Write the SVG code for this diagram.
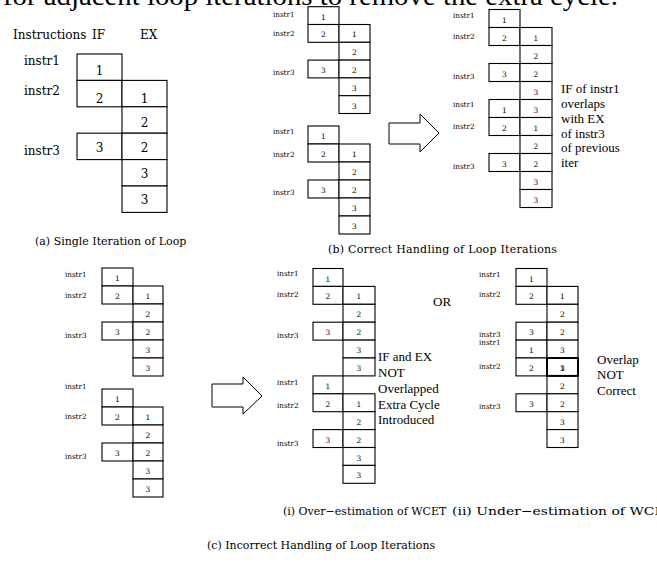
<svg xmlns="http://www.w3.org/2000/svg" width="657" height="563" viewBox="0 0 657 563">
<style>
.bx{fill:#fff;stroke:#000;stroke-width:1.1}
.bx2{fill:none;stroke:#000;stroke-width:2}
text{font-family:"DejaVu Serif","Liberation Serif",serif;fill:#000}
.L{font-size:12px}
.d{font-size:12px;text-anchor:middle}
.s{font-size:7.2px}
.sd{font-size:7.5px;text-anchor:middle}
.note{font-family:"Liberation Serif",serif;font-size:13px}
.cap{font-size:11px}
.top{font-family:"Liberation Serif",serif;font-size:27px}
.arrow{fill:#fff;stroke:#000;stroke-width:1}
</style>
<rect width="657" height="563" fill="#fff"/>
<text class="top" x="3" y="5" textLength="615" lengthAdjust="spacingAndGlyphs">for adjacent loop iterations to remove the extra cycle.</text>

<g id="panel-a">
<text class="L" x="13" y="39">Instructions</text>
<text class="L" x="92" y="39">IF</text>
<text class="L" x="140" y="39">EX</text>
<text class="L" x="24" y="65">instr1</text>
<text class="L" x="24" y="95">instr2</text>
<text class="L" x="24" y="155">instr3</text>
<rect class="bx" x="77" y="54" width="45" height="26.4"/>
<rect class="bx" x="77" y="80.4" width="45" height="26.4"/>
<rect class="bx" x="77" y="133.2" width="45" height="26.4"/>
<rect class="bx" x="122" y="80.4" width="45" height="26.4"/>
<rect class="bx" x="122" y="106.8" width="45" height="26.4"/>
<rect class="bx" x="122" y="133.2" width="45" height="26.4"/>
<rect class="bx" x="122" y="159.6" width="45" height="26.4"/>
<rect class="bx" x="122" y="186" width="45" height="26.4"/>
<text class="d" x="99.5" y="75">1</text>
<text class="d" x="99.5" y="103">2</text>
<text class="d" x="99.5" y="152">3</text>
<text class="d" x="144.5" y="103">1</text>
<text class="d" x="144.5" y="127">2</text>
<text class="d" x="144.5" y="152">2</text>
<text class="d" x="144.5" y="178">3</text>
<text class="d" x="144.5" y="204">3</text>
<text class="cap" x="35" y="245">(a) Single Iteration of Loop</text>
</g>

<g id="panel-b-iter1">
<text class="s" x="273" y="17">instr1</text>
<text class="s" x="273" y="36">instr2</text>
<text class="s" x="273" y="75">instr3</text>
<rect class="bx" x="308" y="6.7" width="31" height="17.8"/>
<rect class="bx" x="308" y="24.5" width="31" height="17.8"/>
<rect class="bx" x="308" y="60.1" width="31" height="17.8"/>
<rect class="bx" x="339" y="24.5" width="31" height="17.8"/>
<rect class="bx" x="339" y="42.3" width="31" height="17.8"/>
<rect class="bx" x="339" y="60.1" width="31" height="17.8"/>
<rect class="bx" x="339" y="77.9" width="31" height="17.8"/>
<rect class="bx" x="339" y="95.7" width="31" height="17.8"/>
<text class="sd" x="323.5" y="19.6">1</text>
<text class="sd" x="323.5" y="37.4">2</text>
<text class="sd" x="323.5" y="73">3</text>
<text class="sd" x="354.5" y="37.4">1</text>
<text class="sd" x="354.5" y="55.2">2</text>
<text class="sd" x="354.5" y="73">2</text>
<text class="sd" x="354.5" y="90.8">3</text>
<text class="sd" x="354.5" y="108.6">3</text>
</g>

<g id="panel-b-iter2">
<text class="s" x="273" y="134">instr1</text>
<text class="s" x="273" y="157">instr2</text>
<text class="s" x="273" y="195">instr3</text>
<rect class="bx" x="308" y="126" width="31" height="18"/>
<rect class="bx" x="308" y="144" width="31" height="18"/>
<rect class="bx" x="308" y="180" width="31" height="18"/>
<rect class="bx" x="339" y="144" width="31" height="18"/>
<rect class="bx" x="339" y="162" width="31" height="18"/>
<rect class="bx" x="339" y="180" width="31" height="18"/>
<rect class="bx" x="339" y="198" width="31" height="18"/>
<rect class="bx" x="339" y="216" width="31" height="18"/>
<text class="sd" x="323.5" y="139">1</text>
<text class="sd" x="323.5" y="157">2</text>
<text class="sd" x="323.5" y="193">3</text>
<text class="sd" x="354.5" y="157">1</text>
<text class="sd" x="354.5" y="175">2</text>
<text class="sd" x="354.5" y="193">2</text>
<text class="sd" x="354.5" y="211">3</text>
<text class="sd" x="354.5" y="229">3</text>
</g>

<g id="panel-b-overlap">
<text class="s" x="453" y="17.5">instr1</text>
<text class="s" x="453" y="38.5">instr2</text>
<text class="s" x="453" y="79">instr3</text>
<text class="s" x="453" y="107">instr1</text>
<text class="s" x="453" y="129">instr2</text>
<text class="s" x="453" y="168.5">instr3</text>
<rect class="bx" x="489" y="9.5" width="31" height="18"/>
<rect class="bx" x="489" y="27.5" width="31" height="18"/>
<rect class="bx" x="489" y="63.5" width="31" height="18"/>
<rect class="bx" x="489" y="99.5" width="31" height="18"/>
<rect class="bx" x="489" y="117.5" width="31" height="18"/>
<rect class="bx" x="489" y="153.5" width="31" height="18"/>
<rect class="bx" x="520" y="27.5" width="32" height="18"/>
<rect class="bx" x="520" y="45.5" width="32" height="18"/>
<rect class="bx" x="520" y="63.5" width="32" height="18"/>
<rect class="bx" x="520" y="81.5" width="32" height="18"/>
<rect class="bx" x="520" y="99.5" width="32" height="18"/>
<rect class="bx" x="520" y="117.5" width="32" height="18"/>
<rect class="bx" x="520" y="135.5" width="32" height="18"/>
<rect class="bx" x="520" y="153.5" width="32" height="18"/>
<rect class="bx" x="520" y="171.5" width="32" height="18"/>
<rect class="bx" x="520" y="189.5" width="32" height="18"/>
<text class="sd" x="504.5" y="22.5">1</text>
<text class="sd" x="504.5" y="40.5">2</text>
<text class="sd" x="504.5" y="76.5">3</text>
<text class="sd" x="504.5" y="112.5">1</text>
<text class="sd" x="504.5" y="130.5">2</text>
<text class="sd" x="504.5" y="166.5">3</text>
<text class="sd" x="536" y="40.5">1</text>
<text class="sd" x="536" y="58.5">2</text>
<text class="sd" x="536" y="76.5">2</text>
<text class="sd" x="536" y="94.5">3</text>
<text class="sd" x="536" y="112.5">3</text>
<text class="sd" x="536" y="130.5">1</text>
<text class="sd" x="536" y="148.5">2</text>
<text class="sd" x="536" y="166.5">2</text>
<text class="sd" x="536" y="184.5">3</text>
<text class="sd" x="536" y="202.5">3</text>
<text class="note" x="561" y="93">IF of instr1</text>
<text class="note" x="561" y="108">overlaps</text>
<text class="note" x="561" y="123">with EX</text>
<text class="note" x="561" y="138">of instr3</text>
<text class="note" x="561" y="152">of previous</text>
<text class="note" x="561" y="167">iter</text>
<text class="cap" x="328" y="253" textLength="229">(b) Correct Handling of Loop Iterations</text>
</g>

<g id="panel-c-iter1">
<text class="s" x="65" y="277">instr1</text>
<text class="s" x="65" y="297.5">instr2</text>
<text class="s" x="65" y="337.5">instr3</text>
<rect class="bx" x="102" y="268" width="31" height="18"/>
<rect class="bx" x="102" y="286" width="31" height="18"/>
<rect class="bx" x="102" y="322" width="31" height="18"/>
<rect class="bx" x="133" y="286" width="30" height="18"/>
<rect class="bx" x="133" y="304" width="30" height="18"/>
<rect class="bx" x="133" y="322" width="30" height="18"/>
<rect class="bx" x="133" y="340" width="30" height="18"/>
<rect class="bx" x="133" y="358" width="30" height="18"/>
<text class="sd" x="117.5" y="281">1</text>
<text class="sd" x="117.5" y="299">2</text>
<text class="sd" x="117.5" y="335">3</text>
<text class="sd" x="148" y="299">1</text>
<text class="sd" x="148" y="317">2</text>
<text class="sd" x="148" y="335">2</text>
<text class="sd" x="148" y="353">3</text>
<text class="sd" x="148" y="371">3</text>
</g>

<g id="panel-c-iter2">
<text class="s" x="65" y="388.5">instr1</text>
<text class="s" x="65" y="418.5">instr2</text>
<text class="s" x="65" y="458.5">instr3</text>
<rect class="bx" x="102" y="389" width="31" height="18"/>
<rect class="bx" x="102" y="407" width="31" height="18"/>
<rect class="bx" x="102" y="443" width="31" height="18"/>
<rect class="bx" x="133" y="407" width="30" height="18"/>
<rect class="bx" x="133" y="425" width="30" height="18"/>
<rect class="bx" x="133" y="443" width="30" height="18"/>
<rect class="bx" x="133" y="461" width="30" height="18"/>
<rect class="bx" x="133" y="479" width="30" height="18"/>
<text class="sd" x="117.5" y="402">1</text>
<text class="sd" x="117.5" y="420">2</text>
<text class="sd" x="117.5" y="456">3</text>
<text class="sd" x="148" y="420">1</text>
<text class="sd" x="148" y="438">2</text>
<text class="sd" x="148" y="456">2</text>
<text class="sd" x="148" y="474">3</text>
<text class="sd" x="148" y="492">3</text>
</g>

<g id="panel-c-over">
<text class="s" x="277" y="276">instr1</text>
<text class="s" x="277" y="297">instr2</text>
<text class="s" x="277" y="337.5">instr3</text>
<text class="s" x="277" y="384.5">instr1</text>
<text class="s" x="277" y="408">instr2</text>
<text class="s" x="277" y="446">instr3</text>
<rect class="bx" x="313" y="268.5" width="30" height="17.9"/>
<rect class="bx" x="313" y="286.4" width="30" height="17.9"/>
<rect class="bx" x="313" y="322.2" width="30" height="17.9"/>
<rect class="bx" x="313" y="375.9" width="30" height="17.9"/>
<rect class="bx" x="313" y="393.8" width="30" height="17.9"/>
<rect class="bx" x="313" y="429.6" width="30" height="17.9"/>
<rect class="bx" x="343" y="286.4" width="32" height="17.9"/>
<rect class="bx" x="343" y="304.3" width="32" height="17.9"/>
<rect class="bx" x="343" y="322.2" width="32" height="17.9"/>
<rect class="bx" x="343" y="340.1" width="32" height="17.9"/>
<rect class="bx" x="343" y="358" width="32" height="17.9"/>
<rect class="bx" x="343" y="393.8" width="32" height="17.9"/>
<rect class="bx" x="343" y="411.7" width="32" height="17.9"/>
<rect class="bx" x="343" y="429.6" width="32" height="17.9"/>
<rect class="bx" x="343" y="447.5" width="32" height="17.9"/>
<rect class="bx" x="343" y="465.4" width="32" height="17.9"/>
<text class="sd" x="328" y="281.5">1</text>
<text class="sd" x="328" y="299.4">2</text>
<text class="sd" x="328" y="335.2">3</text>
<text class="sd" x="328" y="388.9">1</text>
<text class="sd" x="328" y="406.8">2</text>
<text class="sd" x="328" y="442.6">3</text>
<text class="sd" x="359" y="299.4">1</text>
<text class="sd" x="359" y="317.3">2</text>
<text class="sd" x="359" y="335.2">2</text>
<text class="sd" x="359" y="353.1">3</text>
<text class="sd" x="359" y="371">3</text>
<text class="sd" x="359" y="406.8">1</text>
<text class="sd" x="359" y="424.7">2</text>
<text class="sd" x="359" y="442.6">2</text>
<text class="sd" x="359" y="460.5">3</text>
<text class="sd" x="359" y="478.4">3</text>
<text class="note" x="378" y="361">IF and EX</text>
<text class="note" x="378" y="377">NOT</text>
<text class="note" x="378" y="393">Overlapped</text>
<text class="note" x="378" y="409">Extra Cycle</text>
<text class="note" x="378" y="424">Introduced</text>
<text class="cap" x="283" y="515">(i) Over−estimation of WCET</text>
</g>

<text class="note" x="433" y="306">OR</text>

<g id="panel-c-under">
<text class="s" x="479" y="277">instr1</text>
<text class="s" x="479" y="297">instr2</text>
<text class="s" x="479" y="337">instr3</text>
<text class="s" x="479" y="344.5">instr1</text>
<text class="s" x="479" y="368.5">instr2</text>
<text class="s" x="479" y="408.5">instr3</text>
<rect class="bx" x="516" y="268.5" width="31" height="17.9"/>
<rect class="bx" x="516" y="286.4" width="31" height="17.9"/>
<rect class="bx" x="516" y="322.2" width="31" height="17.9"/>
<rect class="bx" x="516" y="340.1" width="31" height="17.9"/>
<rect class="bx" x="516" y="358" width="31" height="17.9"/>
<rect class="bx" x="516" y="393.8" width="31" height="17.9"/>
<rect class="bx" x="547" y="286.4" width="31" height="17.9"/>
<rect class="bx" x="547" y="304.3" width="31" height="17.9"/>
<rect class="bx" x="547" y="322.2" width="31" height="17.9"/>
<rect class="bx" x="547" y="340.1" width="31" height="17.9"/>
<rect class="bx" x="547" y="375.9" width="31" height="17.9"/>
<rect class="bx" x="547" y="393.8" width="31" height="17.9"/>
<rect class="bx" x="547" y="411.7" width="31" height="17.9"/>
<rect class="bx" x="547" y="429.6" width="31" height="17.9"/>
<rect class="bx2" x="547" y="358" width="31" height="17.9"/>
<text class="sd" x="531.5" y="281.5">1</text>
<text class="sd" x="531.5" y="299.4">2</text>
<text class="sd" x="531.5" y="335.2">3</text>
<text class="sd" x="531.5" y="353.1">1</text>
<text class="sd" x="531.5" y="371">2</text>
<text class="sd" x="531.5" y="406.8">3</text>
<text class="sd" x="562.5" y="299.4">1</text>
<text class="sd" x="562.5" y="317.3">2</text>
<text class="sd" x="562.5" y="335.2">2</text>
<text class="sd" x="562.5" y="353.1">3</text>
<text class="sd" x="562.5" y="371">1</text>
<text class="sd" x="562.5" y="371">3</text>
<text class="sd" x="562.5" y="388.9">2</text>
<text class="sd" x="562.5" y="406.8">2</text>
<text class="sd" x="562.5" y="424.7">3</text>
<text class="sd" x="562.5" y="442.6">3</text>
<text class="note" x="597" y="364">Overlap</text>
<text class="note" x="597" y="379">NOT</text>
<text class="note" x="597" y="395">Correct</text>
<text class="cap" x="452" y="515" textLength="222" lengthAdjust="spacingAndGlyphs">(ii) Under−estimation of WCET</text>
</g>

<text class="cap" x="207" y="549">(c) Incorrect Handling of Loop Iterations</text>

<g id="connectors">
<polygon class="arrow" points="389,123 420,123 420,114 439,133 420,152 420,144 389,144"/>
<polygon class="arrow" points="212,384 243,384 243,377 262,396 243,414 243,407 212,407"/>
</g>
</svg>
